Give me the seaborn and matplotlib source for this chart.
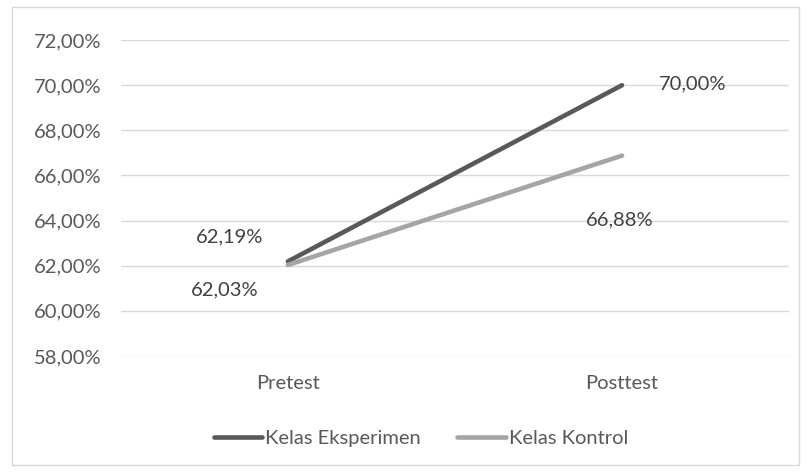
import matplotlib
matplotlib.use("Agg")
import matplotlib.pyplot as plt
import seaborn as sns
import pandas as pd
from matplotlib.patches import Rectangle

categories = ["Pretest", "Posttest"]
eksperimen = [62.19, 70.00]
kontrol = [62.03, 66.88]
series_names = ["Kelas Eksperimen", "Kelas Kontrol"]
yticks = [58, 60, 62, 64, 66, 68, 70, 72]

sns.set_theme(style="white")
plt.rcParams["font.family"] = ["Lato", "DejaVu Sans"]

df = pd.DataFrame({
    "x": list(range(len(categories))) * 2,
    "val": eksperimen + kontrol,
    "series": [series_names[0]] * 2 + [series_names[1]] * 2,
})

fig = plt.figure(figsize=(8.06, 4.72), dpi=100)
ax = fig.add_axes([0.150, 0.246, 0.829, 0.669])
fig.patches.append(Rectangle((12 / 806, 7 / 472), 787 / 806, 458 / 472,
                             transform=fig.transFigure, fill=False,
                             edgecolor="#D9D9D9", linewidth=1))

palette = {series_names[0]: "#595959", series_names[1]: "#A5A5A5"}
sns.lineplot(data=df, x="x", y="val", hue="series", palette=palette,
             linewidth=3.3, ax=ax, legend=True, solid_capstyle="round")

ax.set_xlim(-0.5, 1.5)
ax.set_ylim(58, 72)
ax.set_yticks(yticks)
ax.set_yticklabels([f"{v:.2f}%".replace(".", ",") for v in yticks])
ax.set_xticks(range(len(categories)))
ax.set_xticklabels(categories)
ax.set_xlabel("")
ax.set_ylabel("")
ax.grid(axis="y", color="#D9D9D9", linewidth=1)
ax.set_axisbelow(True)
for s in ax.spines.values():
    s.set_visible(False)
fs = 14.5
ax.tick_params(axis="both", colors="#595959", labelsize=fs, length=0)
ax.tick_params(axis="y", pad=14)
ax.tick_params(axis="x", pad=14)

tc = "#404040"
def fmt(v):
    return f"{v:.2f}%".replace(".", ",")
ax.annotate(fmt(eksperimen[0]), (0, eksperimen[0]), xytext=(-41.8, 17.3),
            textcoords="offset points", ha="center", va="center", color=tc, fontsize=fs)
ax.annotate(fmt(kontrol[0]), (0, kontrol[0]), xytext=(-45.4, -18),
            textcoords="offset points", ha="center", va="center", color=tc, fontsize=fs)
ax.annotate(fmt(eksperimen[1]), (1, eksperimen[1]), xytext=(51, 0.7),
            textcoords="offset points", ha="center", va="center", color=tc, fontsize=fs)
ax.annotate(fmt(kontrol[1]), (1, kontrol[1]), xytext=(-1.4, -46),
            textcoords="offset points", ha="center", va="center", color=tc, fontsize=fs)

leg = ax.legend(loc="center", ncol=2, frameon=False, fontsize=fs, handlelength=2.4,
                handletextpad=0.15, columnspacing=1.8, labelcolor="#595959")
leg.set_bbox_to_anchor((421 / 806, 1 - 438 / 472), transform=fig.transFigure)
for line in leg.get_lines():
    line.set_linewidth(3.3)

fig.savefig("out.png", dpi=100)
